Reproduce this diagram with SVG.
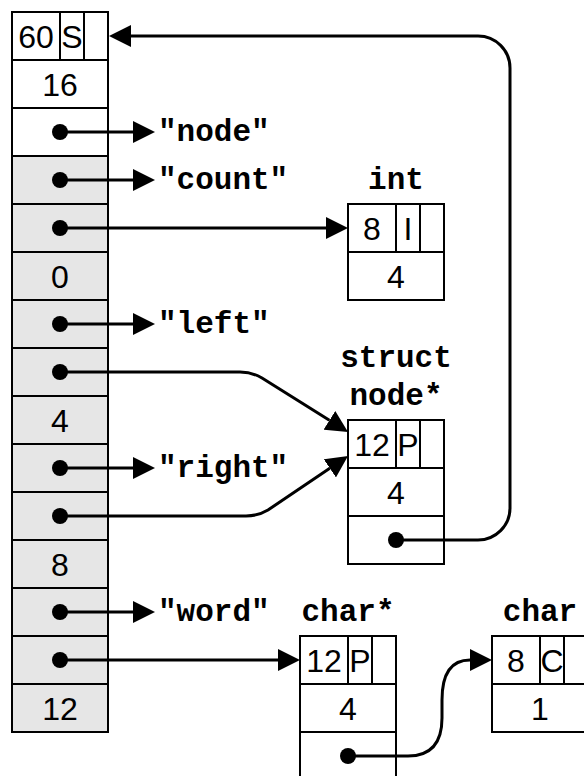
<svg xmlns="http://www.w3.org/2000/svg" width="584" height="776" viewBox="0 0 584 776">
  <style>
    .cell { stroke: #000; stroke-width: 2; }
    .white { fill: #fff; }
    .gray { fill: #e6e6e6; }
    .sep { stroke: #000; stroke-width: 2; fill: none; }
    .num { font-family: "Liberation Sans", Arial, sans-serif; font-size: 32px; fill: #000; text-anchor: middle; }
    .lbl { font-family: "Liberation Mono", "Courier New", monospace; font-weight: bold; font-size: 31px; fill: #000; }
    .mid { text-anchor: middle; }
    .wire { stroke: #000; stroke-width: 3; fill: none; marker-end: url(#head); }
    .dot { fill: #000; }
  </style>
  <defs>
    <marker id="head" viewBox="0 0 22 22" refX="0" refY="11" markerWidth="22" markerHeight="22" markerUnits="userSpaceOnUse" orient="auto">
      <path d="M0,0 L22,11 L0,22 Z" fill="#000"/>
    </marker>
  </defs>

  <rect width="584" height="776" fill="#fff"/>

  <!-- stack frame column -->
  <g id="frame">
    <rect class="cell white" x="12" y="12" width="96" height="144"/>
    <rect class="cell gray" x="12" y="156" width="96" height="576"/>
    <path class="sep" d="M12,60 H108 M12,108 H108 M12,156 H108 M12,204 H108 M12,252 H108 M12,300 H108 M12,348 H108 M12,396 H108 M12,444 H108 M12,492 H108 M12,540 H108 M12,588 H108 M12,636 H108 M12,684 H108 M60,12 V60 M84,12 V60"/>
    <text class="num" x="36" y="47.5">60</text>
    <text class="num" x="72" y="47.5">S</text>
    <text class="num" x="60" y="95.5">16</text>
    <text class="num" x="60" y="287.5">0</text>
    <text class="num" x="60" y="431.5">4</text>
    <text class="num" x="60" y="575.5">8</text>
    <text class="num" x="60" y="719.5">12</text>
  </g>

  <!-- name strings -->
  <g id="names">
    <text class="lbl" x="158" y="141">"node"</text>
    <text class="lbl" x="158" y="189">"count"</text>
    <text class="lbl" x="158" y="333">"left"</text>
    <text class="lbl" x="158" y="477">"right"</text>
    <text class="lbl" x="158" y="621">"word"</text>
  </g>

  <!-- int -->
  <g id="int">
    <text class="lbl mid" x="396" y="189">int</text>
    <rect class="cell white" x="348" y="204" width="96" height="96"/>
    <path class="sep" d="M348,252 H444 M396,204 V252 M420,204 V252"/>
    <text class="num" x="372" y="239.5">8</text>
    <text class="num" x="408" y="239.5">I</text>
    <text class="num" x="396" y="287.5">4</text>
  </g>

  <!-- struct node* -->
  <g id="struct-node">
    <text class="lbl mid" x="396" y="367">struct</text>
    <text class="lbl mid" x="396" y="405">node*</text>
    <rect class="cell white" x="348" y="420" width="96" height="144"/>
    <path class="sep" d="M348,468 H444 M348,516 H444 M396,420 V468 M420,420 V468"/>
    <text class="num" x="372" y="455.5">12</text>
    <text class="num" x="408" y="455.5">P</text>
    <text class="num" x="396" y="503.5">4</text>
  </g>

  <!-- char* -->
  <g id="char-ptr">
    <text class="lbl mid" x="348" y="621">char*</text>
    <rect class="cell white" x="300" y="636" width="96" height="150"/>
    <path class="sep" d="M300,684 H396 M300,732 H396 M348,636 V684 M372,636 V684"/>
    <text class="num" x="324" y="671.5">12</text>
    <text class="num" x="360" y="671.5">P</text>
    <text class="num" x="348" y="719.5">4</text>
  </g>

  <!-- char -->
  <g id="char">
    <text class="lbl mid" x="540" y="621">char</text>
    <rect class="cell white" x="492" y="636" width="96" height="96"/>
    <path class="sep" d="M492,684 H588 M540,636 V684 M564,636 V684"/>
    <text class="num" x="516" y="671.5">8</text>
    <text class="num" x="552" y="671.5">C</text>
    <text class="num" x="540" y="719.5">1</text>
  </g>

  <!-- pointers -->
  <g id="connectors">
    <path class="wire" d="M60,132 H133"/>
    <path class="wire" d="M60,180 H133"/>
    <path class="wire" d="M60,228 H326"/>
    <path class="wire" d="M60,324 H133"/>
    <path class="wire" d="M60,372 H240 Q252,372 262,378 L329.4,420.3"/>
    <path class="wire" d="M60,468 H133"/>
    <path class="wire" d="M60,516 H246 Q258,516 268,510 L329.8,468.3"/>
    <path class="wire" d="M396,540 H478 A32,32 0 0 0 510,508 V68 A32,32 0 0 0 478,36 H131"/>
    <path class="wire" d="M60,612 H133"/>
    <path class="wire" d="M60,660 H278"/>
    <path class="wire" d="M348,756 H408 C432,756 442,742 442,718 V700 C442,676 450,660 470,660"/>
    <circle class="dot" cx="60" cy="132" r="8"/>
    <circle class="dot" cx="60" cy="180" r="8"/>
    <circle class="dot" cx="60" cy="228" r="8"/>
    <circle class="dot" cx="60" cy="324" r="8"/>
    <circle class="dot" cx="60" cy="372" r="8"/>
    <circle class="dot" cx="60" cy="468" r="8"/>
    <circle class="dot" cx="60" cy="516" r="8"/>
    <circle class="dot" cx="60" cy="612" r="8"/>
    <circle class="dot" cx="60" cy="660" r="8"/>
    <circle class="dot" cx="396" cy="540" r="8"/>
    <circle class="dot" cx="348" cy="756" r="8"/>
  </g>
</svg>
